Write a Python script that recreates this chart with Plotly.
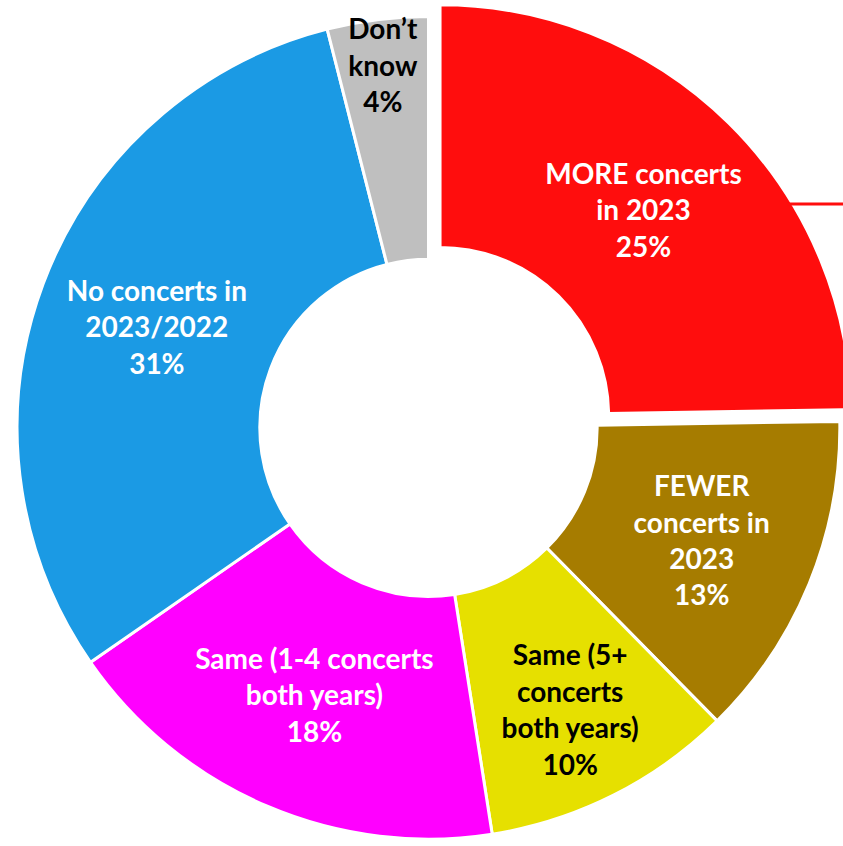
import plotly.graph_objects as go

# Concert attendance: 2023 vs 2022
categories = [
    "MORE concerts in 2023",
    "FEWER concerts in 2023",
    "Same (5+ concerts both years)",
    "Same (1-4 concerts both years)",
    "No concerts in 2023/2022",
    "Don’t know",
]
display_text = [
    "MORE concerts<br>in 2023",
    "FEWER<br>concerts in<br>2023",
    "Same (5+<br>concerts<br>both years)",
    "Same (1-4 concerts<br>both years)",
    "No concerts in<br>2023/2022",
    "Don’t<br>know",
]
shares = [25, 13, 10, 18, 31, 4]
slice_colors = ["#FF0D0D", "#A67C00", "#E6E000", "#FF00FF", "#1B9AE4", "#BFBFBF"]
text_colors = ["white", "white", "black", "white", "white", "black"]
pulls = [0.04, 0, 0, 0, 0, 0]

W, H = 857, 866

fig = go.Figure(
    go.Pie(
        labels=categories,
        values=shares,
        text=display_text,
        texttemplate="%{text}<br>%{value}%",
        textposition="inside",
        insidetextorientation="horizontal",
        textfont=dict(family="Lato", size=28, color=text_colors, weight="bold"),
        hole=0.41,
        pull=pulls,
        sort=False,
        direction="clockwise",
        rotation=0,
        domain=dict(x=[0, 1], y=[0.012, 1]),
        marker=dict(colors=slice_colors, line=dict(color="white", width=3)),
        showlegend=False,
        hoverinfo="label+value",
    )
)

# leader line leaving the right edge of the highlighted slice
fig.add_shape(
    type="line", xref="paper", yref="paper",
    x0=787 / W, x1=1.0, y0=1 - 204 / H, y1=1 - 204 / H,
    line=dict(color="#FF0D0D", width=3),
)

fig.update_layout(
    width=W,
    height=H,
    margin=dict(l=0, r=0, t=0, b=0),
    paper_bgcolor="white",
    plot_bgcolor="white",
    uniformtext=dict(minsize=28, mode="show"),
)

fig.write_html(
    "out.html",
    post_script="document.documentElement.style.overflow='hidden';document.body.style.overflow='hidden';",
)
